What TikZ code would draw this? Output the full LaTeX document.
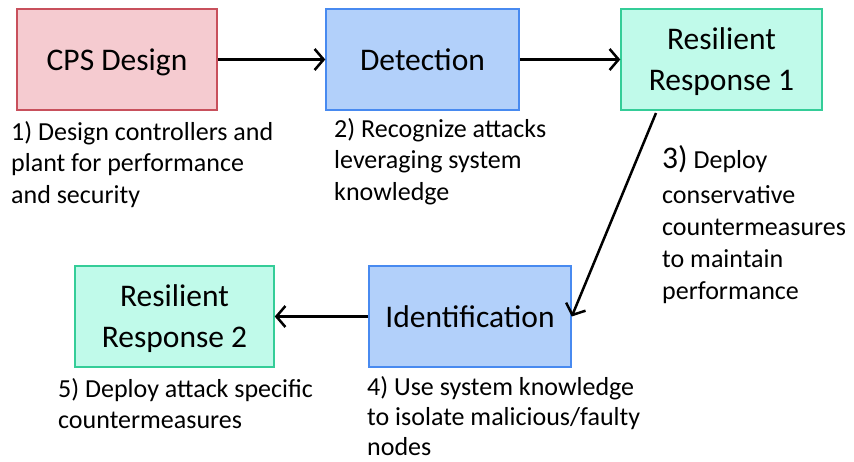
\documentclass[tikz,border=0pt]{standalone}
\usepackage{fontspec}
\setmainfont{Carlito}
\usetikzlibrary{arrows.meta,calc}
\definecolor{pinkfill}{RGB}{245,203,208}
\definecolor{pinkdraw}{RGB}{200,80,92}
\definecolor{bluefill}{RGB}{178,208,250}
\definecolor{bluedraw}{RGB}{72,138,240}
\definecolor{tealfill}{RGB}{192,250,234}
\definecolor{tealdraw}{RGB}{52,205,152}
\tikzset{
  box/.style={draw, line width=1.5pt, minimum height=101pt, inner sep=0pt, align=center,
    font=\fontsize{31.5}{40.5}\selectfont},
  pinkbox/.style={box, fill=pinkfill, draw=pinkdraw},
  bluebox/.style={box, fill=bluefill, draw=bluedraw},
  tealbox/.style={box, fill=tealfill, draw=tealdraw},
  lbl/.style={anchor=base west, inner sep=0pt},
  conn/.style={line width=2.5pt, -{Straight Barb[length=9pt,width=21pt]}}
}
\newcommand{\lbltext}[2]{\parbox[t]{#1}{\raggedright\fontsize{26}{31.5}\selectfont #2}}
\newcommand{\dropby}[2]{\raisebox{-#1}[\height][\depth]{#2}}
\newcommand{\twolines}[2]{\dropby{2.5pt}{\begin{tabular}{@{}c@{}}#1\\#2\end{tabular}}}
\begin{document}
\begin{tikzpicture}[x=1pt,y=-1pt]
\useasboundingbox (0,0) rectangle (854,461);
\node[pinkbox, minimum width=200pt] (cps) at (117,59.5) {\dropby{3pt}{CPS Design}};
\node[bluebox, minimum width=193pt] (det) at (422.5,59.5) {Detection};
\node[tealbox, minimum width=201pt] (rr1) at (721.5,59.5) {\twolines{Resilient}{Response 1}};
\node[tealbox, minimum width=199pt] (rr2) at (174.5,316.5) {\twolines{Resilient}{Response 2}};
\node[bluebox, minimum width=202pt] (idf) at (470,316.5) {Identification};

\node[lbl] (l1) at (11,140) {\lbltext{300pt}{1) Design controllers and\\plant for performance\\and security}};
\node[lbl] (l2) at (334,137) {\lbltext{280pt}{2) Recognize attacks\\leveraging system\\knowledge}};
\node[lbl] (l3) at (662,168) {\parbox[t]{200pt}{\raggedright\fontsize{26}{32}\selectfont{\fontsize{31.5}{31.5}\selectfont 3)} Deploy\\[3pt]conservative\\countermeasures\\to maintain\\performance}};
\node[lbl] (l4) at (367,395) {\parbox[t]{300pt}{\raggedright\fontsize{26}{30.2}\selectfont 4) Use system knowledge\\to isolate malicious/faulty\\nodes}};
\node[lbl] (l5) at (58,397) {\lbltext{300pt}{5) Deploy attack specific\\countermeasures}};

\coordinate (s3) at (656,113);
\draw[conn] (cps) -- (det);
\draw[conn] (det) -- (rr1);
\draw[conn] (s3) -- (idf.east);
\draw[conn] (idf) -- (rr2);
\end{tikzpicture}
\end{document}
